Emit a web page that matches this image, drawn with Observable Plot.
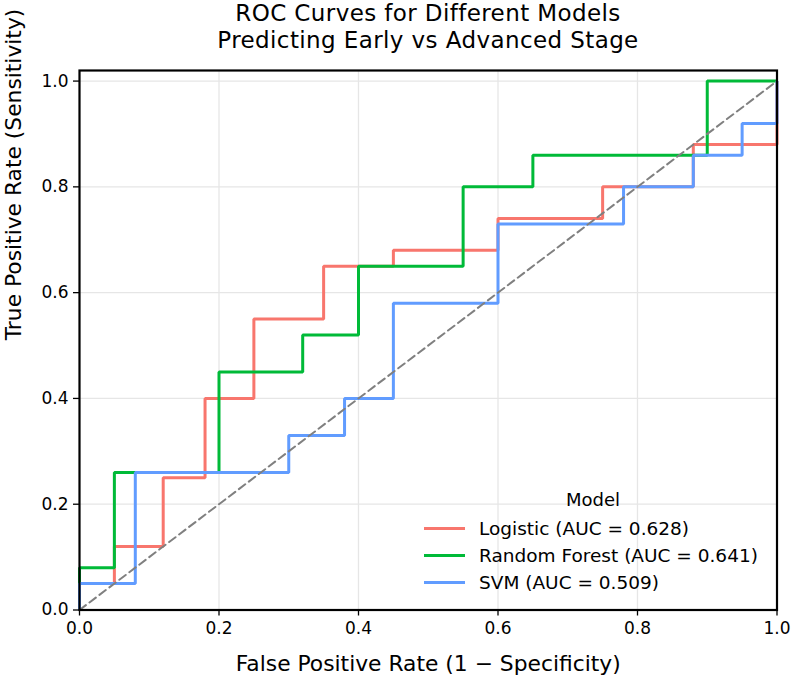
<!DOCTYPE html>
<html>
<head>
<meta charset="utf-8">
<script src="https://cdn.jsdelivr.net/npm/d3@7"></script>
<script src="https://cdn.jsdelivr.net/npm/@observablehq/plot@0.6"></script>
<style>
  html, body { margin: 0; padding: 0; background: #fff; }
  #wrap { position: relative; width: 792px; height: 677px; font-family: "DejaVu Sans", sans-serif; color: #000; overflow: hidden; }
  .tline { position: absolute; left: 60px; width: 736px; text-align: center; font-size: 23px; line-height: 26.8px; height: 26.8px; white-space: nowrap; letter-spacing: 0.4px; }
  #chart { position: absolute; left: 0; top: 56px; }
  #legend { position: absolute; left: 420px; top: 484px; width: 350px; font-size: 18.5px; }
  #legend .ltitle { position: absolute; left: 0; width: 346px; text-align: center; top: 5px; font-size: 18px; }
  #legend .row { position: absolute; left: 4px; height: 24px; display: flex; align-items: center; white-space: nowrap; }
  #legend .sw { width: 41px; height: 3px; margin-right: 14px; }
</style>
</head>
<body>
<div id="wrap">
  <div id="title"></div>
  <div id="chart"></div>
  <div id="legend"></div>
</div>
<script>
// ---- Data ----
const titleLines = ["ROC Curves for Different Models", "Predicting Early vs Advanced Stage"];
const xLabel = "False Positive Rate (1 \u2212 Specificity)";
const yLabel = "True Positive Rate (Sensitivity)";
const legendTitle = "Model";

const models = ["Logistic", "Random Forest", "SVM"];
const aucs = [0.628, 0.641, 0.509];
const colors = ["#F8766D", "#00BA38", "#619CFF"];

const fprLogistic = [0, 0, 0.05, 0.05, 0.12, 0.12, 0.18, 0.18, 0.25, 0.25, 0.35, 0.35, 0.45, 0.45, 0.60, 0.60, 0.75, 0.75, 0.88, 0.88, 1.0, 1.0];
const tprLogistic = [0, 0.05, 0.05, 0.12, 0.12, 0.25, 0.25, 0.40, 0.40, 0.55, 0.55, 0.65, 0.65, 0.68, 0.68, 0.74, 0.74, 0.80, 0.80, 0.88, 0.88, 1.0];

const fprForest = [0, 0, 0.05, 0.05, 0.20, 0.20, 0.32, 0.32, 0.40, 0.40, 0.55, 0.55, 0.65, 0.65, 0.90, 0.90, 1.0];
const tprForest = [0, 0.08, 0.08, 0.26, 0.26, 0.45, 0.45, 0.52, 0.52, 0.65, 0.65, 0.80, 0.80, 0.86, 0.86, 1.0, 1.0];

const fprSVM = [0, 0, 0.08, 0.08, 0.30, 0.30, 0.38, 0.38, 0.45, 0.45, 0.60, 0.60, 0.78, 0.78, 0.88, 0.88, 0.95, 0.95, 1.0, 1.0];
const tprSVM = [0, 0.05, 0.05, 0.26, 0.26, 0.33, 0.33, 0.40, 0.40, 0.58, 0.58, 0.73, 0.73, 0.80, 0.80, 0.86, 0.86, 0.92, 0.92, 1.0];

const diagX = [0, 1];
const diagY = [0, 1];

const xTicks = [0, 0.2, 0.4, 0.6, 0.8, 1.0];
const yTicks = [0, 0.2, 0.4, 0.6, 0.8, 1.0];

// ---- Build table ----
const labels = models.map((m, i) => `${m} (AUC = ${aucs[i].toFixed(3)})`);
const fprs = [fprLogistic, fprForest, fprSVM];
const tprs = [tprLogistic, tprForest, tprSVM];
const rows = labels.flatMap((lab, i) => fprs[i].map((x, j) => ({model: lab, fpr: x, tpr: tprs[i][j]})));
const diag = diagX.map((x, i) => ({fpr: x, tpr: diagY[i]}));

const titleEl = document.getElementById("title");
titleLines.forEach((line, i) => {
  const d = document.createElement("div");
  d.className = "tline";
  d.style.top = (i * 26.8) + "px";
  d.textContent = line;
  titleEl.appendChild(d);
});

const chart = Plot.plot({
  width: 792,
  height: 621,
  marginTop: 14,
  marginLeft: 79,
  marginRight: 15.5,
  marginBottom: 67.5,
  x: {domain: [0, 1]},
  y: {domain: [0, 1.02]},
  color: {domain: labels, range: colors},
  style: {fontFamily: "DejaVu Sans, sans-serif", color: "#000", background: "#fff", overflow: "visible"},
  marks: [
    Plot.gridX(xTicks, {stroke: "#e6e6e6", strokeOpacity: 1, strokeWidth: 1.3}),
    Plot.gridY(yTicks, {stroke: "#e6e6e6", strokeOpacity: 1, strokeWidth: 1.3}),
    Plot.line(rows, {x: "fpr", y: "tpr", z: "model", stroke: "model", strokeWidth: 3, strokeLinejoin: "miter", strokeLinecap: "butt"}),
    Plot.line(diag, {x: "fpr", y: "tpr", stroke: "#808080", strokeWidth: 2, strokeDasharray: "8,4.5"}),
    Plot.frame({stroke: "#000", strokeWidth: 2.2}),
    Plot.axisX(xTicks, {tickSize: 6, tickPadding: 6, tickFormat: d3.format(".1f"), fontSize: 17, label: null, strokeWidth: 1.3}),
    Plot.axisY(yTicks, {tickSize: 6, tickPadding: 5, tickFormat: d3.format(".1f"), fontSize: 17, label: null, strokeWidth: 1.3}),
    Plot.text([xLabel], {frameAnchor: "bottom", dy: 54, lineAnchor: "middle", fontSize: 21.8}),
    Plot.text([yLabel], {frameAnchor: "left", dx: -65, rotate: -90, lineAnchor: "middle", fontSize: 21.8})
  ]
});
document.getElementById("chart").appendChild(chart);

// ---- Legend (HTML overlay) ----
const leg = document.getElementById("legend");
const lt = document.createElement("div");
lt.className = "ltitle";
lt.textContent = legendTitle;
leg.appendChild(lt);
labels.forEach((lab, i) => {
  const r = document.createElement("div");
  r.className = "row";
  r.style.top = (32 + i * 27) + "px";
  const sw = document.createElement("div");
  sw.className = "sw";
  sw.style.background = colors[i];
  const t = document.createElement("span");
  t.textContent = lab;
  r.appendChild(sw);
  r.appendChild(t);
  leg.appendChild(r);
});
</script>
</body>
</html>
